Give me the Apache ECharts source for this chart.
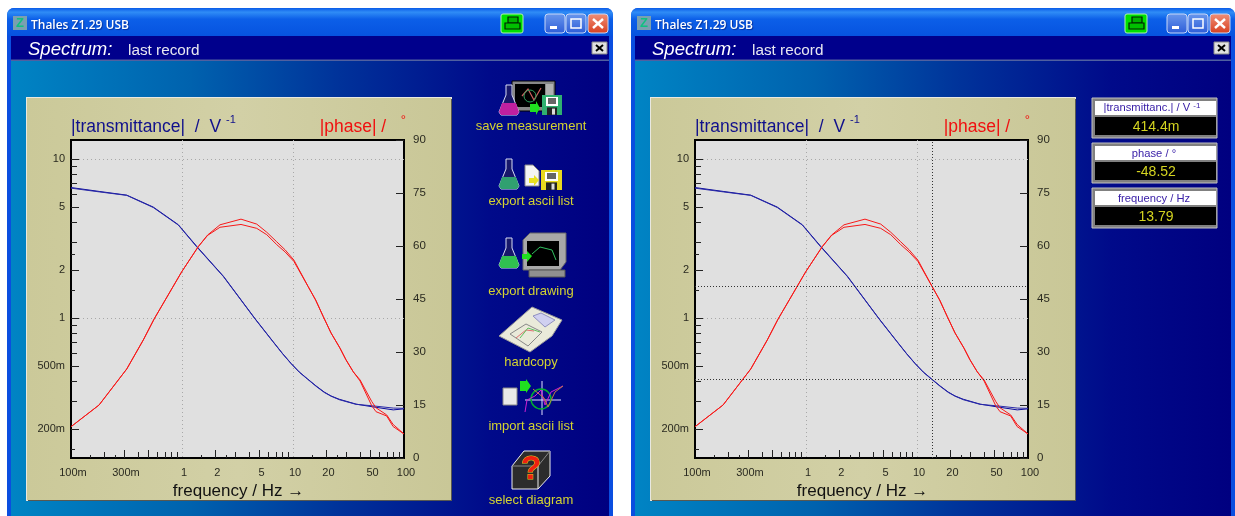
<!DOCTYPE html>
<html><head><meta charset="utf-8">
<script src="https://cdn.jsdelivr.net/npm/echarts@6/dist/echarts.min.js"></script>
<style>html,body{margin:0;padding:0;background:#fff}#c{width:1235px;height:516px}</style>
</head><body><div id="c"></div>
<script>
// ---------- data ----------
const magFreq   = [0.1,0.182,0.318,0.551,0.926,1.357,2.36,4.55,6.56,8.07,9.6,11.4,13.56,16.1,19.1,22,26.1,37,52.2,80,100];
const magSweepA = [6.61,6.24,5.92,4.98,3.86,2.82,1.83,0.99,0.715,0.596,0.518,0.457,0.413,0.374,0.342,0.323,0.308,0.287,0.276,0.264,0.268];
const magSweepB = [6.55,6.2,5.9,4.95,3.84,2.8,1.82,0.985,0.712,0.594,0.516,0.455,0.411,0.372,0.34,0.322,0.306,0.286,0.28,0.271,0.27];
const phaseFreq = [0.1,0.179,0.318,0.448,0.56,0.994,1.4,1.7,2.2,3.4,4.71,5.8,7.13,8.5,10.2,13.7,16,18.75,22,26.5,30,34.9,40.2,51.2,56,69.8,79.8,100];
const phaseSweepA = [8.86,15,25.2,33.4,39.3,52.7,59.8,63.1,66,67.6,66.2,63.9,61.2,58.9,56,48.5,44.7,40,35.4,31.1,27.8,24.4,22.1,16,14.2,12.2,9.5,6.8];
const phaseSweepB = [8.86,15,25.2,33.4,39.3,52.7,59.8,63,65.3,66.1,65,63.2,60.4,58.3,55.6,48.5,44.7,40,35.4,31.1,27.8,24.4,21.8,14.8,13.1,11.9,8.9,6.8];
const xTickValues = [0.1,0.3,1,2,5,10,20,50,100];
const xTickLabels = ['100m','300m','1','2','5','10','20','50','100'];
const yTickValues = [0.2,0.5,1,2,5,10];
const yTickLabels = ['200m','500m','1','2','5','10'];
const xLong  = [0.3,0.5,2,5,20,50];
const xMid   = [0.2,0.4,0.6,0.7,0.8,0.9,3,4,6,7,8,9,30,40,60,70,80,90];
const xShort = [0.15,0.25,1.5,2.5,15,25];
const yLong  = [0.2,0.5,1,2,5,10];
const yMid   = [0.3,0.4,0.6,0.7,0.8,0.9,3,4,6,7,8,9];
const yShort = [0.15,1.5,2.5];
const gridDecades = [1,10];
const cursorFreq = 13.79, cursorMag = 0.4144, cursorPhase = 48.52;
const readouts = [
  ['|transmittanc.| / V','414.4m'],
  ['phase / °','-48.52'],
  ['frequency / Hz','13.79']
];
const actions = ['save measurement','export ascii list','export drawing','hardcopy','import ascii list','select diagram'];
// ---------- helpers ----------
const zip=(a,b)=>a.map((v,i)=>[v,b[i]]);
const FONT='"Liberation Sans",Arial,sans-serif';
const INK='#2a2a20';
const xMin=0.1,xMax=100,yMin=0.1315,yMax=13.16;
const OFFSET=624;
const xAxes=[],yAxes=[],series=[],grids=[];
function buildPanel(idx,dx,cursor){
  const g=grids.length;
  grids.push({left:71+dx,top:140,width:333,height:318,show:true,backgroundColor:'#e0e0e0',borderColor:'#000',borderWidth:2,z:0});
  const xi=xAxes.length, yi=yAxes.length;
  const xBase={type:'log',gridIndex:g,z:2,min:xMin,max:xMax,position:'bottom',axisLine:{show:false,onZero:false},axisLabel:{show:false},axisTick:{show:false},splitLine:{show:false},minorTick:{show:false},silent:true};
  const yBase={type:'log',gridIndex:g,z:2,min:yMin,max:yMax,position:'left',axisLine:{show:false,onZero:false},axisLabel:{show:false},axisTick:{show:false},splitLine:{show:false},minorTick:{show:false},silent:true};
  const tick=(vals,len)=>({show:true,inside:true,length:len,customValues:vals,lineStyle:{color:'#222',width:1}});
  xAxes.push(Object.assign({},xBase,{
    axisTick:tick(xLong,8),
    axisLabel:{show:true,customValues:xTickValues,formatter:v=>{const i=xTickValues.findIndex(t=>Math.abs(t-v)<1e-6);return i<0?'':xTickLabels[i];},color:INK,fontFamily:FONT,fontSize:11,margin:9,padding:[0,0,0,4]},
    name:'frequency / Hz →',nameLocation:'middle',nameGap:22,nameTextStyle:{fontFamily:FONT,fontSize:17,color:'#111',padding:[0,0,0,2]}
  }));
  xAxes.push(Object.assign({},xBase,{axisTick:tick(xMid,6)}));
  xAxes.push(Object.assign({},xBase,{axisTick:tick(xShort,3)}));
  const dotted={show:true,lineStyle:{color:'#a8a8a8',type:[1,3],width:1}};
  xAxes.push(Object.assign({},xBase,{axisTick:{show:false,customValues:gridDecades},splitLine:dotted}));
  yAxes.push(Object.assign({},yBase,{
    axisTick:tick(yLong,8),
    axisLabel:{show:true,customValues:yTickValues,formatter:v=>{const i=yTickValues.findIndex(t=>Math.abs(t-v)<1e-6);return i<0?'':yTickLabels[i];},color:INK,fontFamily:FONT,fontSize:11,margin:6,padding:[2,0,0,0]},
    name:'{m||transmittance|  /  V }{s|-1}',nameLocation:'end',nameGap:4,
    nameTextStyle:{align:'left',verticalAlign:'bottom',rich:{m:{fontFamily:FONT,fontSize:17.5,color:'#10108c',verticalAlign:'bottom',lineHeight:18},s:{fontFamily:FONT,fontSize:11,color:'#10108c',verticalAlign:'top',lineHeight:22,padding:[0,0,5,0]}}}
  }));
  yAxes.push(Object.assign({},yBase,{axisTick:tick(yMid,6)}));
  yAxes.push(Object.assign({},yBase,{axisTick:tick(yShort,4)}));
  yAxes.push(Object.assign({},yBase,{axisTick:{show:false,customValues:gridDecades},splitLine:dotted}));
  yAxes.push({type:'value',gridIndex:g,z:2,min:0,max:90,interval:15,position:'right',silent:true,
    axisLine:{show:false,onZero:false},splitLine:{show:false},
    axisTick:{show:true,inside:true,length:8,lineStyle:{color:'#222',width:1}},
    axisLabel:{color:INK,fontFamily:FONT,fontSize:11.5,margin:9,padding:[11,0,0,0]},
    name:'{m||phase| /   }{s|°}',nameLocation:'end',nameGap:4,
    nameTextStyle:{align:'right',verticalAlign:'bottom',padding:[0,-2,0,0],rich:{m:{fontFamily:FONT,fontSize:17.5,color:'#f01010',verticalAlign:'bottom',lineHeight:18},s:{fontFamily:FONT,fontSize:13,color:'#f01010',verticalAlign:'top',lineHeight:22,padding:[0,0,3,0]}}}
  });
  const line=(name,data,y,color,w)=>({name,type:'line',xAxisIndex:xi,yAxisIndex:y,data,showSymbol:false,symbol:'none',smooth:false,silent:true,animation:false,z:3,lineStyle:{color,width:w}});
  const a=line('transmittance A',zip(magFreq,magSweepA),yi,'#0a0a9c',1);
  const b=line('transmittance B',zip(magFreq,magSweepB),yi,'#2a2aa8',1);
  const c=line('phase A',zip(phaseFreq,phaseSweepA),yi+4,'#f81818',1);
  const d=line('phase B',zip(phaseFreq,phaseSweepB),yi+4,'#f81818',1);
  if(cursor){
    const ml=(o)=>({silent:true,symbol:'none',animation:false,label:{show:false},lineStyle:{color:'#333',type:[1,2],width:1},data:o});
    a.markLine=ml([{yAxis:cursorMag},{xAxis:cursorFreq}]);
    c.markLine=ml([{yAxis:cursorPhase}]);
  }
  series.push(a,b,c,d);
}
buildPanel(0,0,false);
buildPanel(1,OFFSET,true);
// ---------- window chrome ----------
const Z=-5;
const rect=(x,y,w,h,fill,extra)=>Object.assign({type:'rect',silent:true,z:Z,shape:{x,y,width:w,height:h,r:(extra&&extra.r)||0},style:Object.assign({fill},(extra&&extra.style)||{})});
const poly=(pts,fill,stroke,lw)=>({type:'polygon',silent:true,z:Z,shape:{points:pts},style:{fill,stroke:stroke||null,lineWidth:lw||0}});
const pline=(pts,stroke,lw)=>({type:'polyline',silent:true,z:Z,shape:{points:pts},style:{fill:null,stroke,lineWidth:lw||1}});
const circ=(cx,cy,r,fill,stroke,lw)=>({type:'circle',silent:true,z:Z,shape:{cx,cy,r},style:{fill:fill||null,stroke:stroke||null,lineWidth:lw||0}});
const txt=(x,y,t,size,fill,align,extra)=>({type:'text',silent:true,z:Z+1,x,y,style:Object.assign({text:t,fontSize:size,fontFamily:FONT,fill,textAlign:align||'left',textVerticalAlign:'middle'},extra||{})});
const hgrad=s=>({type:'linear',x:0,y:0,x2:1,y2:0,colorStops:s});
const vgrad=s=>({type:'linear',x:0,y:0,x2:0,y2:1,colorStops:s});
function flask(cx,top,liquid){
  return [
    poly([[cx-3,top],[cx+3,top],[cx+3,top+10],[cx+10,top+27],[cx+8,top+30],[cx-8,top+30],[cx-10,top+27],[cx-3,top+10]],'#18186a','#d8dcf4',1),
    poly([[cx-7,top+18],[cx+7,top+18],[cx+10,top+27],[cx+8,top+30],[cx-8,top+30],[cx-10,top+27]],liquid,null,0)
  ];
}
function floppy(x,y,w,h,col){
  return [rect(x,y,w,h,col),rect(x+4,y+2,w-8,h*0.45,'#fff'),rect(x+6,y+3,w-12,h*0.3,'#666'),rect(x+5,y+h*0.62,w-10,h*0.38,'#222'),rect(x+w/2,y+h*0.68,3,h*0.3,'#ddd')];
}
function windowChrome(dx,w,printerX){
  const L=7+dx, R=L+w, els=[];
  els.push({type:'rect',silent:true,z:Z,shape:{x:L,y:8,width:w,height:520,r:[7,7,0,0]},style:{fill:'#0a4ee0'}});
  els.push({type:'rect',silent:true,z:Z,shape:{x:L,y:8,width:w,height:28,r:[7,7,0,0]},style:{fill:vgrad([{offset:0,color:'#0a5be8'},{offset:.15,color:'#2f8cf6'},{offset:.4,color:'#0c5fe8'},{offset:1,color:'#0653e0'}])}});
  els.push(rect(L+4,36,w-8,24,'#00008c'));
  els.push(rect(L+4,59.5,w-8,1.5,'#5060a0'));
  els.push(rect(L+4,61,w-8,460,hgrad([{offset:0,color:'#0084c4'},{offset:.3,color:'#0062ae'},{offset:.55,color:'#00329a'},{offset:.8,color:'#000a8a'},{offset:1,color:'#000080'}])));
  els.push(rect(L+6,16,14,14,'#7aa0b0'));
  els.push(txt(L+13,23.5,'Z',13,'#10c080','center',{fontWeight:'bold'}));
  els.push(txt(L+24,26,'Thales Z1.29 USB',12,'#fff','left',{fontFamily:'"Open Sans",'+FONT,fontWeight:600,textShadowColor:'#0030a0',textShadowBlur:1,textShadowOffsetX:1,textShadowOffsetY:1}));
  els.push(txt(L+21,50,'Spectrum:',18.5,'#fff','left',{fontStyle:'italic',textShadowColor:'#000',textShadowBlur:0,textShadowOffsetX:1,textShadowOffsetY:1}));
  els.push(txt(L+121,51,'last record',15.3,'#e8e8f0'));
  els.push({type:'rect',silent:true,z:Z,shape:{x:printerX,y:14,width:22,height:19,r:2},style:{fill:'#00e000',stroke:'#b0f0b0',lineWidth:1}});
  els.push(rect(printerX+7,17,10,6,'#00b000',{style:{stroke:'#002000',lineWidth:1.2}}));
  els.push(rect(printerX+4,23,15,6,'#00c000',{style:{stroke:'#002000',lineWidth:1.2}}));
  const btn=(x,col)=>({type:'rect',silent:true,z:Z,shape:{x,y:14,width:20,height:19,r:3},style:{fill:col,stroke:'#c8d8f8',lineWidth:1}});
  const bx=R-68;
  els.push(btn(bx,vgrad([{offset:0,color:'#6a98ec'},{offset:1,color:'#2c5cd8'}])));
  els.push(rect(bx+5,26,7,3,'#fff'));
  els.push(btn(bx+21,vgrad([{offset:0,color:'#6a98ec'},{offset:1,color:'#2c5cd8'}])));
  els.push(rect(bx+26,19,10,9,'none',{style:{stroke:'#fff',lineWidth:1.5}}));
  els.push(btn(bx+43,vgrad([{offset:0,color:'#f09078'},{offset:1,color:'#d84020'}])));
  els.push(pline([[bx+48,19],[bx+58,28]],'#fff',2.4));
  els.push(pline([[bx+58,19],[bx+48,28]],'#fff',2.4));
  els.push(rect(R-21,42,15,12,'#e0e0e0',{style:{stroke:'#888',lineWidth:1}}));
  els.push(pline([[R-17,45],[R-10,51]],'#000',2));
  els.push(pline([[R-10,45],[R-17,51]],'#000',2));
  const px=27+dx;
  els.push(rect(px-1,97,426,404,'#e8e8e0'));
  els.push(rect(px+1,99,424,402,'#585850'));
  els.push(rect(px,98,424,402,hgrad([{offset:0,color:'#cbc999'},{offset:.5,color:'#d2d0a6'},{offset:1,color:'#c9c797'}])));
  return els;
}
function actionIcons(){
  const cx=531, out=[];
  const label=(y,t)=>txt(cx,y+1.5,t,13,'#d4d430','center',{textShadowColor:'#000050',textShadowOffsetX:1,textShadowOffsetY:1});
  out.push(rect(512,81,43,30,'#888',{style:{stroke:'#000',lineWidth:1}}),rect(515,84,30,23,'#000'),rect(546,84,7,13,'#b0b0b0'));
  out.push(pline([[522,96],[528,89],[534,100],[541,88]],'#d06060',1.2),circ(530,96,6,null,'#30a060',1));
  out.push(...flask(509,85,'#c020a0'),...floppy(542,95,20,20,'#30b070'));
  out.push(poly([[530,104],[536,104],[536,101],[540,108],[536,115],[536,112],[530,112]],'#20e020'));
  out.push(label(125,actions[0]));
  out.push(...flask(509,159,'#30a070'));
  out.push(poly([[525,165],[533,165],[539,171],[539,186],[525,186]],'#f4f4f4','#888',1));
  out.push(poly([[529,178],[534,178],[534,175],[539,180],[534,186],[534,183],[529,183]],'#e8e020'));
  out.push(...floppy(541,170,21,20,'#e8d820'));
  out.push(label(200,actions[1]));
  out.push(...flask(509,238,'#30c050'));
  out.push(poly([[523,240],[530,233],[566,233],[566,262],[560,270],[523,270]],'#a8a8a8','#666',1));
  out.push(rect(527,241,32,25,'#000'),rect(529,270,36,7,'#909090',{style:{stroke:'#555',lineWidth:1}}));
  out.push(pline([[532,254],[540,247],[552,250],[556,260]],'#30c060',1));
  out.push(poly([[522,254],[527,254],[527,251],[532,256],[527,262],[527,259],[522,259]],'#20e020'));
  out.push(label(290,actions[2]));
  out.push(poly([[499,336],[532,307],[562,320],[552,336],[530,352]],'#eaeada','#999',1));
  out.push(poly([[510,334],[526,324],[542,332],[528,346]],null,'#888',1));
  out.push(pline([[516,338],[526,330],[534,331]],'#e07070',1),pline([[520,338],[528,328],[540,332]],'#60c060',1));
  out.push(poly([[533,316],[541,313],[555,320],[545,327]],'#d0d0f0','#9090c0',1));
  out.push(label(361,actions[3]));
  out.push(rect(503,388,14,17,'#e8e8e8',{style:{stroke:'#888',lineWidth:1}}));
  out.push(poly([[520,381],[526,381],[526,379],[531,386],[526,393],[526,391],[520,391]],'#20e020'));
  out.push(pline([[525,400],[561,400]],'#e0e0ff',1),pline([[542,381],[542,415]],'#e0e0ff',1));
  out.push(circ(541,399,10,null,'#00b030',1.5));
  out.push(pline([[525,412],[527,400],[535,396],[541,390],[545,405],[551,392],[563,386]],'#d020d0',1));
  out.push(pline([[533,389],[544,398],[548,407],[555,392],[563,386]],'#c08040',1));
  out.push(label(425,actions[4]));
  out.push(poly([[512,466],[524,451],[550,451],[550,476],[538,489],[512,489]],'#2c2c2c','#eee',1));
  out.push(pline([[512,466],[538,466],[550,451]],'#888',1),pline([[538,466],[538,489]],'#eee',1));
  out.push(txt(531,470,'?',33,'#f02010','center',{fontWeight:'bold',stroke:'#e8d020',lineWidth:1}));
  out.push(label(499,actions[5]));
  return out;
}
function readoutBoxes(){
  const out=[],x=1092,tops=[98,143,188];
  tops.forEach((y,i)=>{
    out.push(rect(x,y,125,40,'#808080',{style:{stroke:'#c0c0c0',lineWidth:1}}));
    out.push(rect(x+3,y+3,121,14,'#fff'));
    out.push(rect(x+3,y+19,121,18,'#000'));
    if(i===0){
      out.push({type:'text',silent:true,z:Z+1,x:x+60,y:y+10,style:{text:'{a|'+readouts[i][0]+' }{b|-1}',textAlign:'center',textVerticalAlign:'middle',rich:{a:{fontSize:11.2,fontFamily:FONT,fill:'#3a20a8',color:'#3a20a8'},b:{fontSize:8,fontFamily:FONT,fill:'#3a20a8',color:'#3a20a8',padding:[0,0,4,0]}}}});
    } else {
      out.push(txt(x+62,y+11,readouts[i][0],11.2,'#3a20a8','center'));
    }
    out.push(txt(x+64,y+29,readouts[i][1],14,'#d4d420','center'));
  });
  return out;
}
const chrome=[...windowChrome(0,606,501),...windowChrome(OFFSET,604,1125),...actionIcons(),...readoutBoxes()];
const chart=echarts.init(document.getElementById('c'),null,{renderer:'canvas',width:1235,height:516});
chart.setOption({
  animation:false,backgroundColor:'#fff',tooltip:{show:false},legend:{show:false},
  grid:grids,xAxis:xAxes,yAxis:yAxes,series,
  graphic:{elements:chrome}
});
</script></body></html>
